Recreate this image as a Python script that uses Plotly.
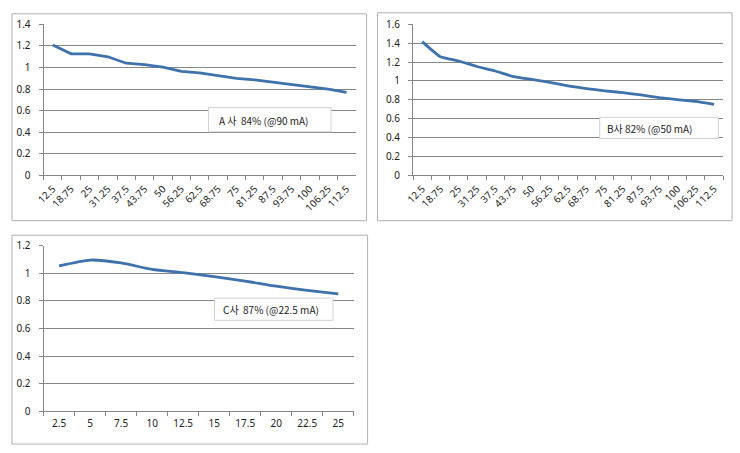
import plotly.graph_objects as go

W, H = 740, 453

cats_ab = ["12.5", "18.75", "25", "31.25", "37.5", "43.75", "50", "56.25", "62.5",
           "68.75", "75", "81.25", "87.5", "93.75", "100", "106.25", "112.5"]
vals_a = [1.21, 1.127, 1.127, 1.10, 1.04, 1.027, 1.003, 0.964, 0.95, 0.925, 0.90,
          0.886, 0.865, 0.844, 0.826, 0.80, 0.77]
vals_b = [1.418, 1.257, 1.212, 1.154, 1.106, 1.047, 1.016, 0.985, 0.948, 0.92,
          0.896, 0.876, 0.852, 0.824, 0.803, 0.783, 0.752]
cats_c = ["2.5", "5", "7.5", "10", "12.5", "15", "17.5", "20", "22.5", "25"]
vals_c = [1.055, 1.097, 1.076, 1.029, 1.005, 0.977, 0.944, 0.907, 0.877, 0.851]

labels = ["A 사  84% (@90 mA)", "B사 82% (@50 mA)", "C사  87% (@22.5 mA)"]

LINE = "#3f72ad"
GRID = "#858585"
FONT = "Noto Sans"

def px_x(v):
    return v / W

def px_y(v):
    return 1 - v / H

fig = go.Figure()

fig.add_trace(go.Scatter(x=cats_ab, y=vals_a, mode="lines", xaxis="x", yaxis="y",
                         line=dict(color=LINE, width=2.8), showlegend=False))
fig.add_trace(go.Scatter(x=cats_ab, y=vals_b, mode="lines", xaxis="x2", yaxis="y2",
                         line=dict(color=LINE, width=2.8, shape="spline", smoothing=0.4),
                         showlegend=False))
fig.add_trace(go.Scatter(x=cats_c, y=vals_c, mode="lines", xaxis="x3", yaxis="y3",
                         line=dict(color=LINE, width=2.8, shape="spline", smoothing=0.6),
                         showlegend=False))

def xax(domain, anchor, angle, n):
    return dict(domain=domain, anchor=anchor, type="category", range=[-0.5, n - 0.5],
                showgrid=False, showline=True, linecolor=GRID, linewidth=1,
                ticks="outside", ticklen=4, tickcolor=GRID, tickson="boundaries",
                tickangle=angle, tickfont=dict(family=FONT, size=10, color="#222"),
                ticklabelstandoff=3, zeroline=False, fixedrange=True)

def yax(domain, anchor, top):
    return dict(domain=domain, anchor=anchor, range=[0, top], dtick=0.2, tick0=0,
                showgrid=True, gridcolor=GRID, gridwidth=1, showline=True,
                linecolor=GRID, ticks="outside", ticklen=4, tickcolor=GRID,
                tickfont=dict(family=FONT, size=10, color="#222"), zeroline=False,
                ticklabelstandoff=6, fixedrange=True)

fig.update_layout(
    width=W, height=H, margin=dict(l=0, r=0, t=0, b=0),
    paper_bgcolor="white", plot_bgcolor="white",
    xaxis=xax([px_x(35), px_x(351)], "y", -45, len(cats_ab)),
    yaxis=yax([px_y(173), px_y(17)], "x", 1.4),
    xaxis2=xax([px_x(409), px_x(723)], "y2", -45, len(cats_ab)),
    yaxis2=yax([px_y(173), px_y(17)], "x2", 1.6),
    xaxis3=xax([px_x(35), px_x(349)], "y3", 0, len(cats_c)),
    yaxis3=yax([px_y(417), px_y(246)], "x3", 1.2),
)

shapes = []
# panel borders
for (x0, y0, x1, y1) in [(3, 6, 362, 220), (373, 5, 732, 220), (3, 235, 363, 451)]:
    shapes.append(dict(type="rect", xref="paper", yref="paper", layer="below",
                       x0=px_x(x0), x1=px_x(x1), y0=px_y(y1), y1=px_y(y0),
                       line=dict(color="#b0b0b0", width=1), fillcolor="rgba(0,0,0,0)"))
# label boxes
boxes = [(202, 103, 326, 128), (598, 113, 718, 135), (208, 300, 328, 323)]
for (x0, y0, x1, y1) in boxes:
    shapes.append(dict(type="rect", xref="paper", yref="paper", layer="above",
                       x0=px_x(x0), x1=px_x(x1), y0=px_y(y1), y1=px_y(y0),
                       line=dict(color="#d0d0d0", width=1), fillcolor="white"))
fig.update_layout(shapes=shapes)

text_pos = [(211, 116), (603, 125), (215, 312)]
for lab, (tx, ty) in zip(labels, text_pos):
    fig.add_annotation(text=lab, xref="paper", yref="paper", x=px_x(tx), y=px_y(ty),
                       xanchor="left", yanchor="middle", showarrow=False,
                       font=dict(family="Noto Sans CJK KR", size=10, color="#222"))

fig.write_html("out.html")
